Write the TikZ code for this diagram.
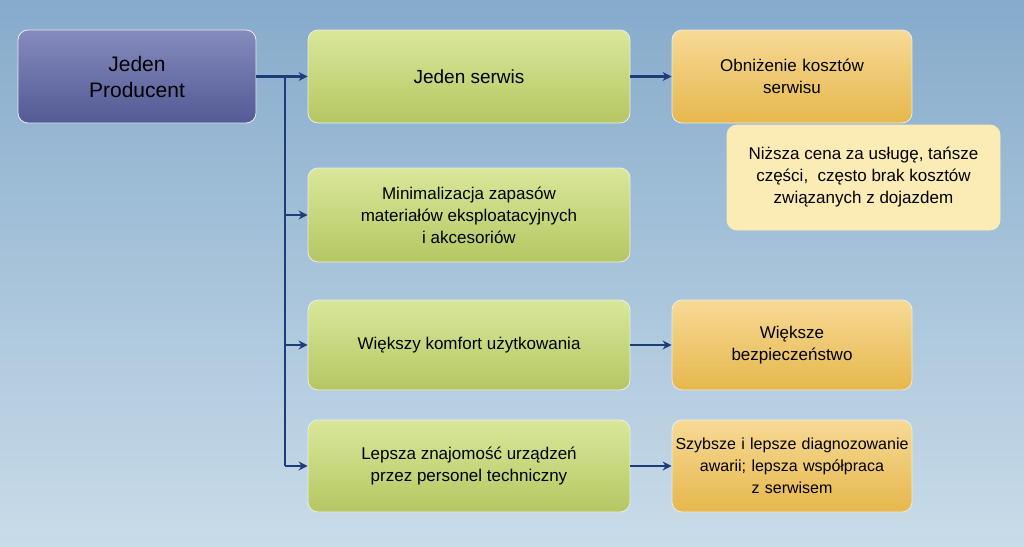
\documentclass[tikz,border=0pt]{standalone}
\usepackage{fontspec}
\setmainfont{Liberation Sans}
\usetikzlibrary{arrows.meta}
\definecolor{bgtop}{HTML}{86ABCB}
\definecolor{bgbot}{HTML}{C9DCE9}
\definecolor{prod}{HTML}{5C64A6}
\definecolor{grn}{HTML}{C9DD6E}
\definecolor{org}{HTML}{F2C150}
\definecolor{note}{HTML}{FBEBB5}
\definecolor{arr}{HTML}{1F3C7A}
\tikzset{
 box/.style={draw=white!85!gray, line width=0.8pt, rounded corners=10pt, align=center, font=\fontsize{17}{22}\selectfont, inner sep=4pt},
 gbox/.style={box, top color=grn!70!white, bottom color=grn!90!black, minimum width=322pt},
 obox/.style={box, top color=org!60!white, bottom color=org!95!black, text width=232pt},
 con/.style={arr, line width=2.2pt, -{Stealth[length=9pt,width=9pt]}}
}
\begin{document}
\begin{tikzpicture}[x=1pt,y=-1pt]
\shade[top color=bgtop, bottom color=bgbot] (0,0) rectangle (1024,546);
\useasboundingbox (0,0) rectangle (1024,546);
\node[box, top color=prod!75!white, bottom color=prod!90!black, minimum width=238pt, minimum height=93pt, font=\fontsize{21}{26}\selectfont] (p) at (137,76.5) {Jeden\\Producent};
\node[gbox, minimum height=93pt, font=\fontsize{19}{23}\selectfont] (g1) at (469,76.5) {Jeden serwis};
\node[gbox, minimum height=94pt] (g2) at (469,215) {Minimalizacja zapasów\\materiałów eksploatacyjnych\\i akcesoriów};
\node[gbox, minimum height=90pt] (g3) at (469,345) {Większy komfort użytkowania};
\node[gbox, minimum height=92pt] (g4) at (469,466) {Lepsza znajomość urządzeń\\przez personel techniczny};
\node[obox, minimum height=93pt] (o1) at (792,76.5) {Obniżenie kosztów\\serwisu};
\node[box, fill=note, draw=note, minimum width=273pt, minimum height=105pt] (n) at (863.5,177.5) {Niższa cena za usługę, tańsze\\części,\ \ często brak kosztów\\związanych z dojazdem};
\node[obox, minimum height=90pt] (o3) at (792,345) {Większe\\bezpieczeństwo};
\node[obox, text width=236pt, inner xsep=2pt, minimum height=92pt, font=\fontsize{16}{22}\selectfont] (o4) at (792,466) {Szybsze i lepsze diagnozowanie\\awarii; lepsza współpraca\\z serwisem};
\coordinate (t0) at (285,76.5);
\coordinate (t4) at (285,466);
\draw[arr, line width=2.2pt] (p.east) -- (t0) -- (t4);
\draw[con] (t0) -- (g1.west);
\draw[con] (285,215) -- (g2.west);
\draw[con] (285,345) -- (g3.west);
\draw[con] (t4) -- (g4.west);
\draw[con] (g1.east) -- (o1.west);
\draw[con] (g3.east) -- (o3.west);
\draw[con] (g4.east) -- (o4.west);
\end{tikzpicture}
\end{document}
